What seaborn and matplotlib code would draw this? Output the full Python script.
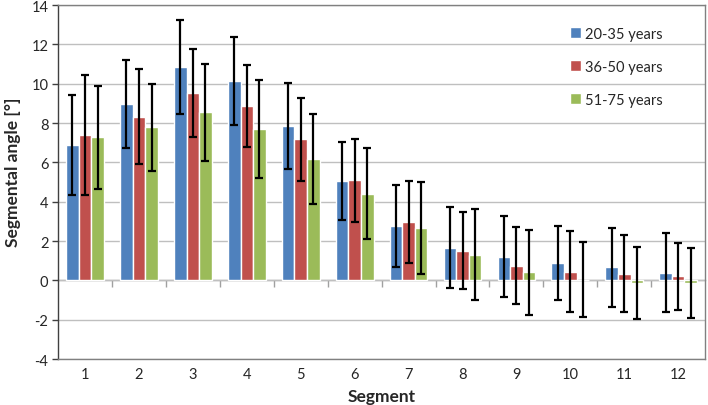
import numpy as np
import pandas as pd
import matplotlib
matplotlib.use("Agg")
import matplotlib.pyplot as plt
import seaborn as sns

segments = ['1', '2', '3', '4', '5', '6', '7', '8', '9', '10', '11', '12']
groups = ['20-35 years', '36-50 years', '51-75 years']
m_20 = [6.87, 8.96, 10.86, 10.15, 7.86, 5.06, 2.75, 1.66, 1.21, 0.88, 0.66, 0.39]
sd_20 = [2.55, 2.24, 2.40, 2.25, 2.18, 2.00, 2.09, 2.06, 2.06, 1.87, 1.99, 2.00]
m_36 = [7.38, 8.33, 9.54, 8.87, 7.18, 5.09, 2.97, 1.51, 0.76, 0.44, 0.34, 0.22]
sd_36 = [3.06, 2.40, 2.25, 2.10, 2.10, 2.10, 2.10, 1.97, 1.95, 2.06, 1.95, 1.70]
m_51 = [7.28, 7.79, 8.54, 7.69, 6.18, 4.41, 2.65, 1.31, 0.42, 0.03, -0.12, -0.12]
sd_51 = [2.63, 2.20, 2.46, 2.50, 2.30, 2.30, 2.33, 2.32, 2.16, 1.90, 1.82, 1.78]
y_ticks = [-4, -2, 0, 2, 4, 6, 8, 10, 12, 14]

colors = ['#4F81BD', '#C0504D', '#9BBB59']

sns.set_style("white")
plt.rcParams['font.family'] = ['Lato', 'DejaVu Sans']
plt.rcParams['axes.unicode_minus'] = False

df = pd.DataFrame({
    'Segment': segments * 3,
    'Group': [groups[0]] * 12 + [groups[1]] * 12 + [groups[2]] * 12,
    'Angle': m_20 + m_36 + m_51,
})

fig = plt.figure(figsize=(7.08, 4.06), dpi=100)
ax = fig.add_axes([0.082, 0.113, 0.914, 0.872])

sns.barplot(data=df, x='Segment', y='Angle', hue='Group', order=segments,
            hue_order=groups, palette=colors, width=0.7, errorbar=None,
            saturation=1, ax=ax, zorder=2)

sds = [sd_20, sd_36, sd_51]
means = [m_20, m_36, m_51]
for cont, sd, mv in zip(ax.containers, sds, means):
    xs = [p.get_x() + p.get_width() / 2 for p in cont.patches]
    ax.errorbar(xs, mv, yerr=sd, fmt='none', ecolor='black',
                elinewidth=1.6, capsize=3.2, capthick=1.6, zorder=3)

ax.set_ylim(-4, 14)
ax.set_yticks(y_ticks)
ax.set_yticklabels([str(t) for t in y_ticks])
ax.set_xlim(-0.5, len(segments) - 0.5)
ax.yaxis.grid(True, color='#BFBFBF', linewidth=1.0, zorder=0)
ax.set_axisbelow(True)

for s in ['top', 'right', 'bottom']:
    ax.spines[s].set_color('#808080')
    ax.spines[s].set_linewidth(1.0)
ax.spines['left'].set_color('#404040')
ax.spines['left'].set_linewidth(1.0)

ax.tick_params(axis='y', which='major', length=4, width=1, color='#404040',
               direction='out', labelsize=10.5, pad=3, left=True)
ax.tick_params(axis='x', which='major', length=0, labelsize=10.5, pad=6)

# category axis at zero with boundary tick marks
sec = ax.secondary_xaxis(0, transform=ax.transData)
sec.set_xticks(np.arange(len(segments) - 1) + 0.5)
sec.set_xticklabels([])
sec.tick_params(length=5, width=1, color='#A0A0A0', direction='out')
sec.spines['bottom'].set_color('#A0A0A0')
sec.spines['bottom'].set_linewidth(1.0)

ax.set_xlabel('Segment', fontsize=12.5, fontweight='bold', labelpad=5)
ax.set_ylabel('Segmental angle [°]', fontsize=12.5, fontweight='bold', labelpad=6)
ax.yaxis.set_label_coords(-0.058, 0.53)

leg = ax.legend(loc='upper left', bbox_to_anchor=(0.782, 0.955), frameon=False,
                handlelength=0.75, handleheight=0.75, handletextpad=0.3,
                labelspacing=1.3, fontsize=10.5, borderaxespad=0)

fig.savefig('out.png', dpi=100)
